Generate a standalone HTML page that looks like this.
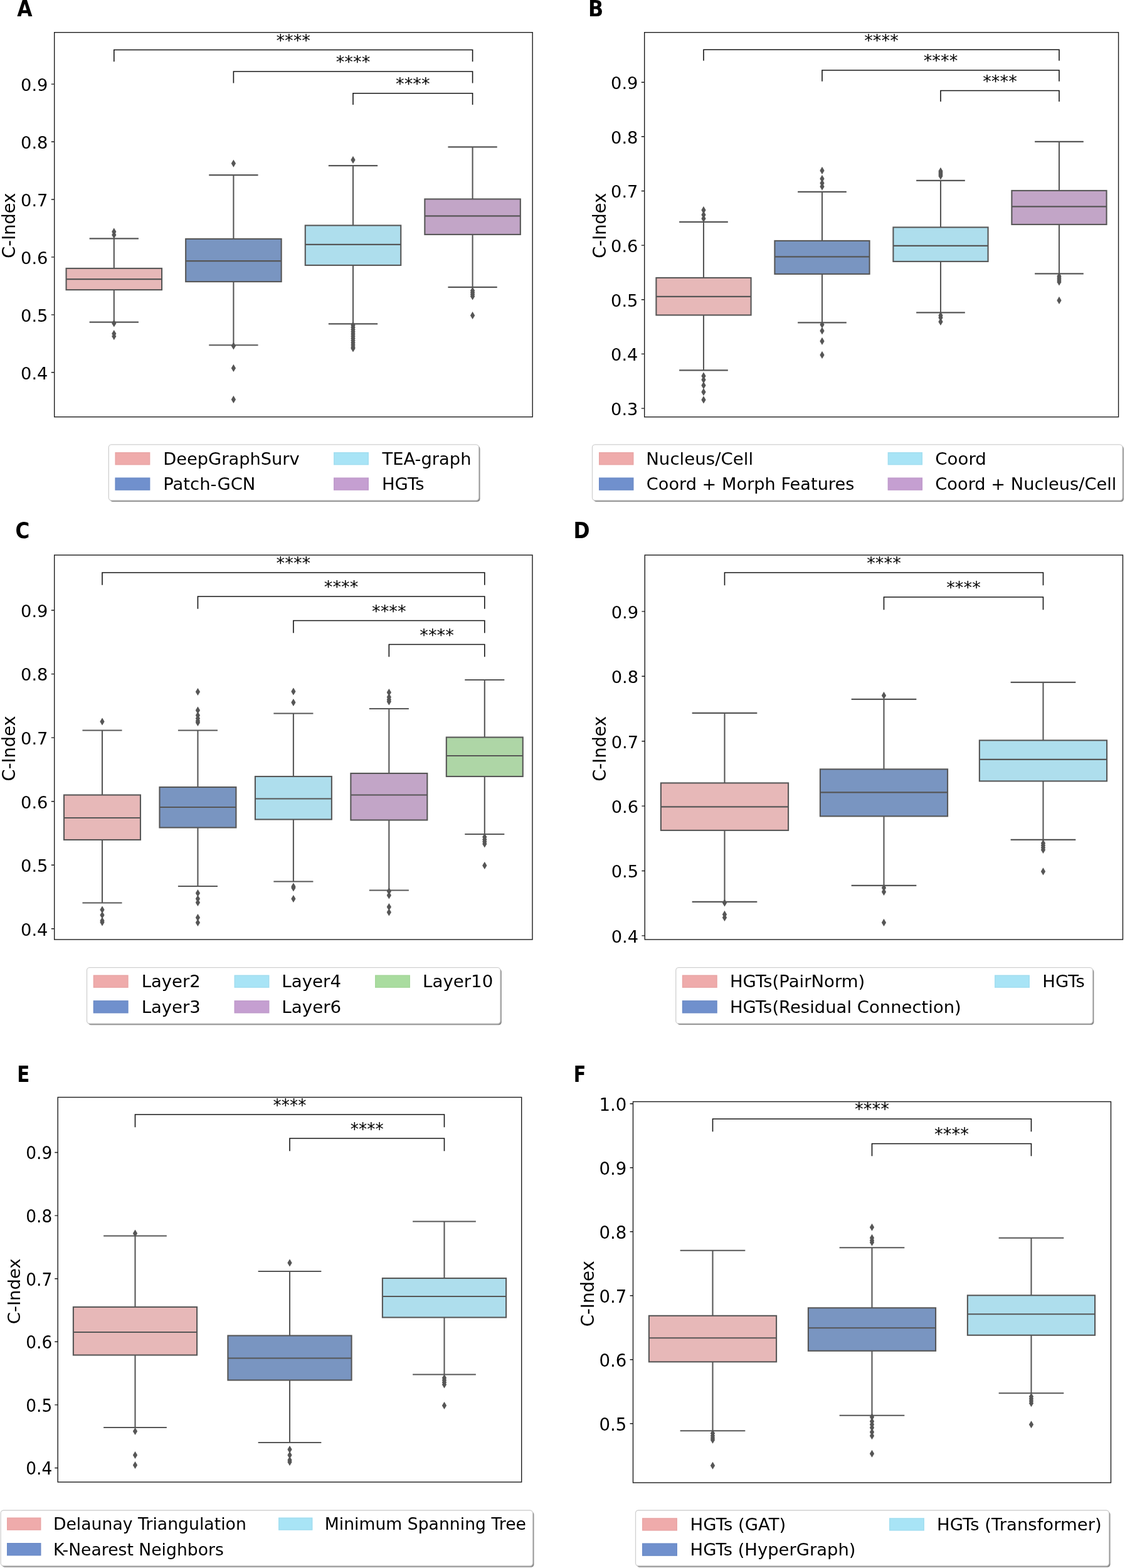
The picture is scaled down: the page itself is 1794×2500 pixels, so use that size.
<!DOCTYPE html>
<html lang="en"><head><meta charset="utf-8"><title>C-Index box plots</title>
<style>
html,body{margin:0;padding:0;background:#fff}
body{width:1794px;height:2500px;overflow:hidden}
svg{display:block}
svg text{font-family:"DejaVu Sans","Liberation Sans",sans-serif;fill:#000}
svg text.pl{font-family:"DejaVu Sans","Liberation Sans",sans-serif;font-weight:bold}
.bx{stroke:#565656;stroke-width:2.08;fill:none;stroke-linecap:square}
.bx .md{stroke-linecap:butt}
.fl{fill:#565656;stroke:#565656;stroke-width:1.2;stroke-linejoin:miter}
.br{fill:none;stroke:#161616;stroke-width:1.6;stroke-linecap:square}
.sp{fill:none;stroke:#1c1c1c;stroke-width:1.4}
.tk{fill:none;stroke:#1c1c1c;stroke-width:1.4}
.sh{fill:#8a8a8a}
.lp{fill:none;stroke:#000;stroke-opacity:.035;stroke-width:1}
.lb{fill:#fff;stroke:#d0d0d0;stroke-width:1.3}
</style></head><body>
<svg width="1794" height="2500" viewBox="0 0 1794 2500" role="img" aria-label="C-Index box plots, panels A to F">
<rect width="1794" height="2500" fill="#fff"/>
<g id="panel-A">
<g class="bx">
<path d="M181.8 380.4V427.9M181.8 462.1V513.6M143.68 380.4h76.24M143.68 513.6h76.24"/>
<rect x="105.56" y="427.9" width="152.48" height="34.2" fill="#e7b8b8"/>
<path class="md" d="M105.56 445.1h152.48"/>
</g>
<path class="fl" d="M181.8 364.5l2.95 4.9l-2.95 4.9l-2.95 -4.9zM181.8 369.7l2.95 4.9l-2.95 4.9l-2.95 -4.9zM181.8 510.5l2.95 4.9l-2.95 4.9l-2.95 -4.9zM181.8 527.2l2.95 4.9l-2.95 4.9l-2.95 -4.9zM181.8 531.2l2.95 4.9l-2.95 4.9l-2.95 -4.9z"/>
<g class="bx">
<path d="M372.4 279.1V380.9M372.4 449.1V550.2M334.28 279.1h76.24M334.28 550.2h76.24"/>
<rect x="296.16" y="380.9" width="152.48" height="68.2" fill="#7995c1"/>
<path class="md" d="M296.16 416.1h152.48"/>
</g>
<path class="fl" d="M372.4 255.7l2.95 4.9l-2.95 4.9l-2.95 -4.9zM372.4 546.5l2.95 4.9l-2.95 4.9l-2.95 -4.9zM372.4 582l2.95 4.9l-2.95 4.9l-2.95 -4.9zM372.4 632l2.95 4.9l-2.95 4.9l-2.95 -4.9z"/>
<g class="bx">
<path d="M563 264.1V359.4M563 422.9V516.4M524.88 264.1h76.24M524.88 516.4h76.24"/>
<rect x="486.76" y="359.4" width="152.48" height="63.5" fill="#aedeed"/>
<path class="md" d="M486.76 389.9h152.48"/>
</g>
<path class="fl" d="M563 250l2.95 4.9l-2.95 4.9l-2.95 -4.9zM563 513.5l2.95 4.9l-2.95 4.9l-2.95 -4.9zM563 517l2.95 4.9l-2.95 4.9l-2.95 -4.9zM563 520.5l2.95 4.9l-2.95 4.9l-2.95 -4.9zM563 524l2.95 4.9l-2.95 4.9l-2.95 -4.9zM563 527.5l2.95 4.9l-2.95 4.9l-2.95 -4.9zM563 531l2.95 4.9l-2.95 4.9l-2.95 -4.9zM563 534.5l2.95 4.9l-2.95 4.9l-2.95 -4.9zM563 538l2.95 4.9l-2.95 4.9l-2.95 -4.9zM563 541.5l2.95 4.9l-2.95 4.9l-2.95 -4.9zM563 545l2.95 4.9l-2.95 4.9l-2.95 -4.9zM563 548.5l2.95 4.9l-2.95 4.9l-2.95 -4.9zM563 550.5l2.95 4.9l-2.95 4.9l-2.95 -4.9z"/>
<g class="bx">
<path d="M753.6 234.4V317.4M753.6 373.9V457.9M715.48 234.4h76.24M715.48 457.9h76.24"/>
<rect x="677.36" y="317.4" width="152.48" height="56.5" fill="#c2a5c7"/>
<path class="md" d="M677.36 344.4h152.48"/>
</g>
<path class="fl" d="M753.6 458.5l2.95 4.9l-2.95 4.9l-2.95 -4.9zM753.6 461.5l2.95 4.9l-2.95 4.9l-2.95 -4.9zM753.6 464.5l2.95 4.9l-2.95 4.9l-2.95 -4.9zM753.6 467.5l2.95 4.9l-2.95 4.9l-2.95 -4.9zM753.6 498l2.95 4.9l-2.95 4.9l-2.95 -4.9z"/>
<path class="br" d="M181.8 97.5V79.5H753.6V97.5"/>
<text transform="translate(467.7 73.9) scale(1 1)" font-size="27.3" text-anchor="middle">****</text>
<path class="br" d="M372.4 131.7V114H753.6V131.7"/>
<text transform="translate(563 108.4) scale(1 1)" font-size="27.3" text-anchor="middle">****</text>
<path class="br" d="M563 166.3V148.7H753.6V166.3"/>
<text transform="translate(658.3 143.1) scale(1 1)" font-size="27.3" text-anchor="middle">****</text>
<rect class="sp" x="86.7" y="51.7" width="762.5" height="613"/>
<path class="tk" d="M86.7 134.1h-4.9M86.7 226h-4.9M86.7 318h-4.9M86.7 409.9h-4.9M86.7 501.9h-4.9M86.7 593.8h-4.9"/>
<g font-size="27.3" text-anchor="end">
<text transform="translate(76.5 144.95) scale(1 1)">0.9</text>
<text transform="translate(76.5 236.85) scale(1 1)">0.8</text>
<text transform="translate(76.5 328.85) scale(1 1)">0.7</text>
<text transform="translate(76.5 420.75) scale(1 1)">0.6</text>
<text transform="translate(76.5 512.75) scale(1 1)">0.5</text>
<text transform="translate(76.5 604.65) scale(1 1)">0.4</text>
</g>
<text transform="translate(23.9 359.7) rotate(-90) scale(1 1.02)" font-size="27.3" text-anchor="middle">C-Index</text>
<text class="pl" transform="translate(27.35 25.6) scale(0.9 1)" font-size="34.9">A</text>
<rect class="sh" x="175.3" y="711" width="590.2" height="89" rx="4.5"/>
<rect class="lb" x="173.3" y="708.8" width="590.2" height="89" rx="4.5"/>
<g font-size="26.7">
<rect x="183.4" y="721" width="56" height="20.45" fill="#efabab"/>
<rect class="lp" x="184.4" y="722" width="54" height="18.45"/>
<text transform="translate(260.22 740.9) scale(1.0220 1)">DeepGraphSurv</text>
<rect x="183.4" y="761.4" width="56" height="20.45" fill="#7090cd"/>
<rect class="lp" x="184.4" y="762.4" width="54" height="18.45"/>
<text transform="translate(260.21 781.4) scale(1.0278 1)">Patch-GCN</text>
<rect x="532" y="721" width="56" height="20.45" fill="#a8e4f6"/>
<rect class="lp" x="533" y="722" width="54" height="18.45"/>
<text transform="translate(609.48 740.9) scale(1.0245 1)">TEA-graph</text>
<rect x="532" y="761.4" width="56" height="20.45" fill="#c59fd1"/>
<rect class="lp" x="533" y="762.4" width="54" height="18.45"/>
<text transform="translate(608.9 781.4) scale(1.0309 1)">HGTs</text>
</g>
</g>
<g id="panel-B">
<g class="bx">
<path d="M1122 353.9V442.9M1122 502.4V590.4M1084.2 353.9h75.6M1084.2 590.4h75.6"/>
<rect x="1046.4" y="442.9" width="151.2" height="59.5" fill="#e7b8b8"/>
<path class="md" d="M1046.4 472.9h151.2"/>
</g>
<path class="fl" d="M1122 330l2.95 4.9l-2.95 4.9l-2.95 -4.9zM1122 337.5l2.95 4.9l-2.95 4.9l-2.95 -4.9zM1122 343.5l2.95 4.9l-2.95 4.9l-2.95 -4.9zM1122 594.5l2.95 4.9l-2.95 4.9l-2.95 -4.9zM1122 600.5l2.95 4.9l-2.95 4.9l-2.95 -4.9zM1122 609.5l2.95 4.9l-2.95 4.9l-2.95 -4.9zM1122 620l2.95 4.9l-2.95 4.9l-2.95 -4.9zM1122 632.5l2.95 4.9l-2.95 4.9l-2.95 -4.9z"/>
<g class="bx">
<path d="M1311 305.9V383.9M1311 436.9V514.4M1273.2 305.9h75.6M1273.2 514.4h75.6"/>
<rect x="1235.4" y="383.9" width="151.2" height="53" fill="#7995c1"/>
<path class="md" d="M1235.4 409.4h151.2"/>
</g>
<path class="fl" d="M1311 267l2.95 4.9l-2.95 4.9l-2.95 -4.9zM1311 280l2.95 4.9l-2.95 4.9l-2.95 -4.9zM1311 287l2.95 4.9l-2.95 4.9l-2.95 -4.9zM1311 292.5l2.95 4.9l-2.95 4.9l-2.95 -4.9zM1311 512.5l2.95 4.9l-2.95 4.9l-2.95 -4.9zM1311 522.5l2.95 4.9l-2.95 4.9l-2.95 -4.9zM1311 539l2.95 4.9l-2.95 4.9l-2.95 -4.9zM1311 561l2.95 4.9l-2.95 4.9l-2.95 -4.9z"/>
<g class="bx">
<path d="M1500 287.9V362.4M1500 416.9V498.4M1462.2 287.9h75.6M1462.2 498.4h75.6"/>
<rect x="1424.4" y="362.4" width="151.2" height="54.5" fill="#aedeed"/>
<path class="md" d="M1424.4 391.9h151.2"/>
</g>
<path class="fl" d="M1500 268l2.95 4.9l-2.95 4.9l-2.95 -4.9zM1500 270.5l2.95 4.9l-2.95 4.9l-2.95 -4.9zM1500 273l2.95 4.9l-2.95 4.9l-2.95 -4.9zM1500 275.5l2.95 4.9l-2.95 4.9l-2.95 -4.9zM1500 498l2.95 4.9l-2.95 4.9l-2.95 -4.9zM1500 501.5l2.95 4.9l-2.95 4.9l-2.95 -4.9zM1500 508l2.95 4.9l-2.95 4.9l-2.95 -4.9z"/>
<g class="bx">
<path d="M1689 225.9V303.9M1689 357.9V436.4M1651.2 225.9h75.6M1651.2 436.4h75.6"/>
<rect x="1613.4" y="303.9" width="151.2" height="54" fill="#c2a5c7"/>
<path class="md" d="M1613.4 329.4h151.2"/>
</g>
<path class="fl" d="M1689 435.5l2.95 4.9l-2.95 4.9l-2.95 -4.9zM1689 438.5l2.95 4.9l-2.95 4.9l-2.95 -4.9zM1689 441.5l2.95 4.9l-2.95 4.9l-2.95 -4.9zM1689 444.5l2.95 4.9l-2.95 4.9l-2.95 -4.9zM1689 474l2.95 4.9l-2.95 4.9l-2.95 -4.9z"/>
<path class="br" d="M1122 96V79.2H1689V96"/>
<text transform="translate(1405.5 73.6) scale(1 1)" font-size="27.3" text-anchor="middle">****</text>
<path class="br" d="M1311 129V112H1689V129"/>
<text transform="translate(1500 106.4) scale(1 1)" font-size="27.3" text-anchor="middle">****</text>
<path class="br" d="M1500 161.3V144.5H1689V161.3"/>
<text transform="translate(1594.5 138.9) scale(1 1)" font-size="27.3" text-anchor="middle">****</text>
<rect class="sp" x="1027.7" y="51.7" width="755.9" height="613.1"/>
<path class="tk" d="M1027.7 131.2h-4.9M1027.7 217.8h-4.9M1027.7 304.5h-4.9M1027.7 391.1h-4.9M1027.7 477.8h-4.9M1027.7 564.4h-4.9M1027.7 651.1h-4.9"/>
<g font-size="27.3" text-anchor="end">
<text transform="translate(1017.5 142.05) scale(1 1)">0.9</text>
<text transform="translate(1017.5 228.65) scale(1 1)">0.8</text>
<text transform="translate(1017.5 315.35) scale(1 1)">0.7</text>
<text transform="translate(1017.5 401.95) scale(1 1)">0.6</text>
<text transform="translate(1017.5 488.65) scale(1 1)">0.5</text>
<text transform="translate(1017.5 575.25) scale(1 1)">0.4</text>
<text transform="translate(1017.5 661.95) scale(1 1)">0.3</text>
</g>
<text transform="translate(966.1 359.7) rotate(-90) scale(1 1.02)" font-size="27.3" text-anchor="middle">C-Index</text>
<text class="pl" transform="translate(938.1 25.7) scale(0.91 1)" font-size="34.9">B</text>
<rect class="sh" x="946.5" y="711" width="845.5" height="89" rx="4.5"/>
<rect class="lb" x="944.5" y="708.8" width="845.5" height="89" rx="4.5"/>
<g font-size="26.7">
<rect x="955" y="721" width="55.5" height="20.45" fill="#efabab"/>
<rect class="lp" x="956" y="722" width="53.5" height="18.45"/>
<text transform="translate(1030.19 740.9) scale(1.0360 1)">Nucleus/Cell</text>
<rect x="955" y="761.4" width="55.5" height="20.45" fill="#7090cd"/>
<rect class="lp" x="956" y="762.4" width="53.5" height="18.45"/>
<text transform="translate(1030.77 781.4) scale(1.0188 1)">Coord + Morph Features</text>
<rect x="1415.6" y="721" width="55.5" height="20.45" fill="#a8e4f6"/>
<rect class="lp" x="1416.6" y="722" width="53.5" height="18.45"/>
<text transform="translate(1491.25 740.9) scale(1.0368 1)">Coord</text>
<rect x="1415.6" y="761.4" width="55.5" height="20.45" fill="#c59fd1"/>
<rect class="lp" x="1416.6" y="762.4" width="53.5" height="18.45"/>
<text transform="translate(1491.27 781.4) scale(1.0212 1)">Coord + Nucleus/Cell</text>
</g>
</g>
<g id="panel-C">
<g class="bx">
<path d="M163 1164.5V1267.5M163 1339V1439.5M132.51 1164.5h60.98M132.51 1439.5h60.98"/>
<rect x="102.02" y="1267.5" width="121.96" height="71.5" fill="#e7b8b8"/>
<path class="md" d="M102.02 1304h121.96"/>
</g>
<path class="fl" d="M163 1145.6l2.95 4.9l-2.95 4.9l-2.95 -4.9zM163 1445.6l2.95 4.9l-2.95 4.9l-2.95 -4.9zM163 1454.1l2.95 4.9l-2.95 4.9l-2.95 -4.9zM163 1463.1l2.95 4.9l-2.95 4.9l-2.95 -4.9zM163 1465.6l2.95 4.9l-2.95 4.9l-2.95 -4.9z"/>
<g class="bx">
<path d="M315.45 1164.5V1255M315.45 1319.5V1413M284.96 1164.5h60.98M284.96 1413h60.98"/>
<rect x="254.47" y="1255" width="121.96" height="64.5" fill="#7995c1"/>
<path class="md" d="M254.47 1287h121.96"/>
</g>
<path class="fl" d="M315.45 1098.1l2.95 4.9l-2.95 4.9l-2.95 -4.9zM315.45 1127.6l2.95 4.9l-2.95 4.9l-2.95 -4.9zM315.45 1135.6l2.95 4.9l-2.95 4.9l-2.95 -4.9zM315.45 1140.6l2.95 4.9l-2.95 4.9l-2.95 -4.9zM315.45 1144.6l2.95 4.9l-2.95 4.9l-2.95 -4.9zM315.45 1147.1l2.95 4.9l-2.95 4.9l-2.95 -4.9zM315.45 1419.1l2.95 4.9l-2.95 4.9l-2.95 -4.9zM315.45 1428.1l2.95 4.9l-2.95 4.9l-2.95 -4.9zM315.45 1434.1l2.95 4.9l-2.95 4.9l-2.95 -4.9zM315.45 1458.1l2.95 4.9l-2.95 4.9l-2.95 -4.9zM315.45 1466.1l2.95 4.9l-2.95 4.9l-2.95 -4.9z"/>
<g class="bx">
<path d="M467.9 1137.5V1238M467.9 1306.5V1405.5M437.41 1137.5h60.98M437.41 1405.5h60.98"/>
<rect x="406.92" y="1238" width="121.96" height="68.5" fill="#aedeed"/>
<path class="md" d="M406.92 1273.5h121.96"/>
</g>
<path class="fl" d="M467.9 1097.6l2.95 4.9l-2.95 4.9l-2.95 -4.9zM467.9 1115.1l2.95 4.9l-2.95 4.9l-2.95 -4.9zM467.9 1408.6l2.95 4.9l-2.95 4.9l-2.95 -4.9zM467.9 1410.6l2.95 4.9l-2.95 4.9l-2.95 -4.9zM467.9 1428.1l2.95 4.9l-2.95 4.9l-2.95 -4.9z"/>
<g class="bx">
<path d="M620.35 1130V1233M620.35 1307.5V1419.5M589.86 1130h60.98M589.86 1419.5h60.98"/>
<rect x="559.37" y="1233" width="121.96" height="74.5" fill="#c2a5c7"/>
<path class="md" d="M559.37 1267.5h121.96"/>
</g>
<path class="fl" d="M620.35 1099.1l2.95 4.9l-2.95 4.9l-2.95 -4.9zM620.35 1106.6l2.95 4.9l-2.95 4.9l-2.95 -4.9zM620.35 1110.6l2.95 4.9l-2.95 4.9l-2.95 -4.9zM620.35 1113.6l2.95 4.9l-2.95 4.9l-2.95 -4.9zM620.35 1416.1l2.95 4.9l-2.95 4.9l-2.95 -4.9zM620.35 1422.6l2.95 4.9l-2.95 4.9l-2.95 -4.9zM620.35 1441.1l2.95 4.9l-2.95 4.9l-2.95 -4.9zM620.35 1449.6l2.95 4.9l-2.95 4.9l-2.95 -4.9z"/>
<g class="bx">
<path d="M772.8 1084V1175.5M772.8 1238V1330M742.31 1084h60.98M742.31 1330h60.98"/>
<rect x="711.82" y="1175.5" width="121.96" height="62.5" fill="#aed6a6"/>
<path class="md" d="M711.82 1205h121.96"/>
</g>
<path class="fl" d="M772.8 1329.6l2.95 4.9l-2.95 4.9l-2.95 -4.9zM772.8 1333.6l2.95 4.9l-2.95 4.9l-2.95 -4.9zM772.8 1337.1l2.95 4.9l-2.95 4.9l-2.95 -4.9zM772.8 1340.6l2.95 4.9l-2.95 4.9l-2.95 -4.9zM772.8 1375.1l2.95 4.9l-2.95 4.9l-2.95 -4.9z"/>
<path class="br" d="M163 932V913H772.8V932"/>
<text transform="translate(467.9 907.4) scale(1 1)" font-size="27.3" text-anchor="middle">****</text>
<path class="br" d="M315.45 970V951H772.8V970"/>
<text transform="translate(544.12 945.4) scale(1 1)" font-size="27.3" text-anchor="middle">****</text>
<path class="br" d="M467.9 1008.5V989.5H772.8V1008.5"/>
<text transform="translate(620.35 983.9) scale(1 1)" font-size="27.3" text-anchor="middle">****</text>
<path class="br" d="M620.35 1046.5V1027.5H772.8V1046.5"/>
<text transform="translate(696.57 1021.9) scale(1 1)" font-size="27.3" text-anchor="middle">****</text>
<rect class="sp" x="86.7" y="885" width="762.3" height="613"/>
<path class="tk" d="M86.7 973h-4.9M86.7 1074.6h-4.9M86.7 1176.1h-4.9M86.7 1277.7h-4.9M86.7 1379.2h-4.9M86.7 1480.7h-4.9"/>
<g font-size="27.3" text-anchor="end">
<text transform="translate(76.5 983.85) scale(1 1)">0.9</text>
<text transform="translate(76.5 1085.45) scale(1 1)">0.8</text>
<text transform="translate(76.5 1186.95) scale(1 1)">0.7</text>
<text transform="translate(76.5 1288.55) scale(1 1)">0.6</text>
<text transform="translate(76.5 1390.05) scale(1 1)">0.5</text>
<text transform="translate(76.5 1491.55) scale(1 1)">0.4</text>
</g>
<text transform="translate(23.9 1193.4) rotate(-90) scale(1 1.02)" font-size="27.3" text-anchor="middle">C-Index</text>
<text class="pl" transform="translate(24.5 857.5) scale(0.89 1)" font-size="34.9">C</text>
<rect class="sh" x="140.5" y="1544.8" width="659.3" height="89.4" rx="4.5"/>
<rect class="lb" x="138.5" y="1542.6" width="659.3" height="89.4" rx="4.5"/>
<g font-size="26.7">
<rect x="148.7" y="1554.5" width="56" height="20.45" fill="#efabab"/>
<rect class="lp" x="149.7" y="1555.5" width="54" height="18.45"/>
<text transform="translate(225.7 1574.3) scale(1.0286 1)">Layer2</text>
<rect x="148.7" y="1595.1" width="56" height="20.45" fill="#7090cd"/>
<rect class="lp" x="149.7" y="1596.1" width="54" height="18.45"/>
<text transform="translate(225.7 1614.8) scale(1.0292 1)">Layer3</text>
<rect x="373.5" y="1554.5" width="56" height="20.45" fill="#a8e4f6"/>
<rect class="lp" x="374.5" y="1555.5" width="54" height="18.45"/>
<text transform="translate(449.28 1574.3) scale(1.0365 1)">Layer4</text>
<rect x="373.5" y="1595.1" width="56" height="20.45" fill="#c59fd1"/>
<rect class="lp" x="374.5" y="1596.1" width="54" height="18.45"/>
<text transform="translate(449.28 1614.8) scale(1.0387 1)">Layer6</text>
<rect x="598" y="1554.5" width="56" height="20.45" fill="#a9dc9f"/>
<rect class="lp" x="599" y="1555.5" width="54" height="18.45"/>
<text transform="translate(674.04 1574.3) scale(1.0358 1)">Layer10</text>
</g>
</g>
<g id="panel-D">
<g class="bx">
<path d="M1155.5 1136.9V1248.4M1155.5 1323.9V1437.9M1104.7 1136.9h101.6M1104.7 1437.9h101.6"/>
<rect x="1053.9" y="1248.4" width="203.2" height="75.5" fill="#e7b8b8"/>
<path class="md" d="M1053.9 1286.4h203.2"/>
</g>
<path class="fl" d="M1155.5 1434.5l2.95 4.9l-2.95 4.9l-2.95 -4.9zM1155.5 1453l2.95 4.9l-2.95 4.9l-2.95 -4.9zM1155.5 1458l2.95 4.9l-2.95 4.9l-2.95 -4.9z"/>
<g class="bx">
<path d="M1409.5 1114.9V1226.4M1409.5 1301.4V1411.9M1358.7 1114.9h101.6M1358.7 1411.9h101.6"/>
<rect x="1307.9" y="1226.4" width="203.2" height="75" fill="#7995c1"/>
<path class="md" d="M1307.9 1263.4h203.2"/>
</g>
<path class="fl" d="M1409.5 1104l2.95 4.9l-2.95 4.9l-2.95 -4.9zM1409.5 1410.5l2.95 4.9l-2.95 4.9l-2.95 -4.9zM1409.5 1417l2.95 4.9l-2.95 4.9l-2.95 -4.9zM1409.5 1466l2.95 4.9l-2.95 4.9l-2.95 -4.9z"/>
<g class="bx">
<path d="M1663.5 1087.9V1180.4M1663.5 1245.4V1338.9M1612.7 1087.9h101.6M1612.7 1338.9h101.6"/>
<rect x="1561.9" y="1180.4" width="203.2" height="65" fill="#aedeed"/>
<path class="md" d="M1561.9 1210.9h203.2"/>
</g>
<path class="fl" d="M1663.5 1339.5l2.95 4.9l-2.95 4.9l-2.95 -4.9zM1663.5 1343l2.95 4.9l-2.95 4.9l-2.95 -4.9zM1663.5 1346.5l2.95 4.9l-2.95 4.9l-2.95 -4.9zM1663.5 1350l2.95 4.9l-2.95 4.9l-2.95 -4.9zM1663.5 1384.5l2.95 4.9l-2.95 4.9l-2.95 -4.9z"/>
<path class="br" d="M1155.5 932.5V913H1663.5V932.5"/>
<text transform="translate(1409.5 907.4) scale(1 1)" font-size="27.3" text-anchor="middle">****</text>
<path class="br" d="M1409.5 971.5V952H1663.5V971.5"/>
<text transform="translate(1536.5 946.4) scale(1 1)" font-size="27.3" text-anchor="middle">****</text>
<rect class="sp" x="1028.3" y="885" width="762.2" height="613"/>
<path class="tk" d="M1028.3 974.9h-4.9M1028.3 1078.3h-4.9M1028.3 1181.7h-4.9M1028.3 1285.1h-4.9M1028.3 1388.5h-4.9M1028.3 1491.9h-4.9"/>
<g font-size="27.3" text-anchor="end">
<text transform="translate(1018.1 985.75) scale(1 1)">0.9</text>
<text transform="translate(1018.1 1089.15) scale(1 1)">0.8</text>
<text transform="translate(1018.1 1192.55) scale(1 1)">0.7</text>
<text transform="translate(1018.1 1295.95) scale(1 1)">0.6</text>
<text transform="translate(1018.1 1399.35) scale(1 1)">0.5</text>
<text transform="translate(1018.1 1502.75) scale(1 1)">0.4</text>
</g>
<text transform="translate(966.1 1193.8) rotate(-90) scale(1 1.02)" font-size="27.3" text-anchor="middle">C-Index</text>
<text class="pl" transform="translate(914.45 857.6) scale(0.9 1)" font-size="34.9">D</text>
<rect class="sh" x="1079.8" y="1544.9" width="664.6" height="89.2" rx="4.5"/>
<rect class="lb" x="1077.8" y="1542.7" width="664.6" height="89.2" rx="4.5"/>
<g font-size="26.7">
<rect x="1087.8" y="1554.5" width="56" height="20.45" fill="#efabab"/>
<rect class="lp" x="1088.8" y="1555.5" width="54" height="18.45"/>
<text transform="translate(1163.9 1574.3) scale(1.0313 1)">HGTs(PairNorm)</text>
<rect x="1087.8" y="1595.1" width="56" height="20.45" fill="#7090cd"/>
<rect class="lp" x="1088.8" y="1596.1" width="54" height="18.45"/>
<text transform="translate(1163.91 1614.8) scale(1.0284 1)">HGTs(Residual Connection)</text>
<rect x="1586" y="1554.5" width="56" height="20.45" fill="#a8e4f6"/>
<rect class="lp" x="1587" y="1555.5" width="54" height="18.45"/>
<text transform="translate(1662.3 1574.3) scale(1.0309 1)">HGTs</text>
</g>
</g>
<g id="panel-E">
<g class="bx">
<path d="M215.5 1970.5V2083.9M215.5 2160.5V2276M166.2 1970.5h98.6M166.2 2276h98.6"/>
<rect x="116.9" y="2083.9" width="197.2" height="76.6" fill="#e7b8b8"/>
<path class="md" d="M116.9 2124h197.2"/>
</g>
<path class="fl" d="M215.5 1961.6l2.95 4.9l-2.95 4.9l-2.95 -4.9zM215.5 2277.1l2.95 4.9l-2.95 4.9l-2.95 -4.9zM215.5 2315.1l2.95 4.9l-2.95 4.9l-2.95 -4.9zM215.5 2331.1l2.95 4.9l-2.95 4.9l-2.95 -4.9z"/>
<g class="bx">
<path d="M462 2027V2129.5M462 2200.5V2300M412.7 2027h98.6M412.7 2300h98.6"/>
<rect x="363.4" y="2129.5" width="197.2" height="71" fill="#7995c1"/>
<path class="md" d="M363.4 2165.5h197.2"/>
</g>
<path class="fl" d="M462 2008.6l2.95 4.9l-2.95 4.9l-2.95 -4.9zM462 2306.1l2.95 4.9l-2.95 4.9l-2.95 -4.9zM462 2315.1l2.95 4.9l-2.95 4.9l-2.95 -4.9zM462 2323.1l2.95 4.9l-2.95 4.9l-2.95 -4.9zM462 2326.1l2.95 4.9l-2.95 4.9l-2.95 -4.9z"/>
<g class="bx">
<path d="M708.5 1947.5V2038M708.5 2100.5V2191.5M659.2 1947.5h98.6M659.2 2191.5h98.6"/>
<rect x="609.9" y="2038" width="197.2" height="62.5" fill="#aedeed"/>
<path class="md" d="M609.9 2067h197.2"/>
</g>
<path class="fl" d="M708.5 2192.1l2.95 4.9l-2.95 4.9l-2.95 -4.9zM708.5 2195.6l2.95 4.9l-2.95 4.9l-2.95 -4.9zM708.5 2199.1l2.95 4.9l-2.95 4.9l-2.95 -4.9zM708.5 2202.6l2.95 4.9l-2.95 4.9l-2.95 -4.9zM708.5 2236.1l2.95 4.9l-2.95 4.9l-2.95 -4.9z"/>
<path class="br" d="M215.5 1796.5V1777H708.5V1796.5"/>
<text transform="translate(462 1772.2) scale(0.96 1)" font-size="27.5" text-anchor="middle">****</text>
<path class="br" d="M462 1834.5V1815H708.5V1834.5"/>
<text transform="translate(585.25 1810.2) scale(0.96 1)" font-size="27.5" text-anchor="middle">****</text>
<rect class="sp" x="92.2" y="1749.5" width="739.5" height="613.5"/>
<path class="tk" d="M92.2 1837.5h-4.9M92.2 1938.1h-4.9M92.2 2038.7h-4.9M92.2 2139.3h-4.9M92.2 2239.9h-4.9M92.2 2340.5h-4.9"/>
<g font-size="27.5" text-anchor="end">
<text transform="translate(83.2 1848.42) scale(0.96 1)">0.9</text>
<text transform="translate(83.2 1949.02) scale(0.96 1)">0.8</text>
<text transform="translate(83.2 2049.62) scale(0.96 1)">0.7</text>
<text transform="translate(83.2 2150.22) scale(0.96 1)">0.6</text>
<text transform="translate(83.2 2250.82) scale(0.96 1)">0.5</text>
<text transform="translate(83.2 2351.42) scale(0.96 1)">0.4</text>
</g>
<text transform="translate(32.2 2058.8) rotate(-90) scale(1 0.98)" font-size="27.5" text-anchor="middle">C-Index</text>
<text class="pl" transform="translate(27.3 1724.6) scale(0.84 1)" font-size="34.9">E</text>
<rect class="sh" x="3.2" y="2410.2" width="848.3" height="88.5" rx="4.5"/>
<rect class="lb" x="1.2" y="2408" width="848.3" height="88.5" rx="4.5"/>
<g font-size="26.7">
<rect x="11" y="2419.5" width="54.5" height="20.4" fill="#efabab"/>
<rect class="lp" x="12" y="2420.5" width="52.5" height="18.4"/>
<text transform="translate(84.88 2439.2) scale(0.9999 1)">Delaunay Triangulation</text>
<rect x="11" y="2460" width="54.5" height="20.4" fill="#7090cd"/>
<rect class="lp" x="12" y="2461" width="52.5" height="18.4"/>
<text transform="translate(84.88 2479.7) scale(0.9980 1)">K-Nearest Neighbors</text>
<rect x="444" y="2419.5" width="54.5" height="20.4" fill="#a8e4f6"/>
<rect class="lp" x="445" y="2420.5" width="52.5" height="18.4"/>
<text transform="translate(517.78 2439.2) scale(0.9988 1)">Minimum Spanning Tree</text>
</g>
</g>
<g id="panel-F">
<g class="bx">
<path d="M1136.5 1993.8V2097.8M1136.5 2171.3V2281.3M1085.7 1993.8h101.6M1085.7 2281.3h101.6"/>
<rect x="1034.9" y="2097.8" width="203.2" height="73.5" fill="#e7b8b8"/>
<path class="md" d="M1034.9 2133.3h203.2"/>
</g>
<path class="fl" d="M1136.5 2280.4l2.95 4.9l-2.95 4.9l-2.95 -4.9zM1136.5 2284.4l2.95 4.9l-2.95 4.9l-2.95 -4.9zM1136.5 2287.9l2.95 4.9l-2.95 4.9l-2.95 -4.9zM1136.5 2290.9l2.95 4.9l-2.95 4.9l-2.95 -4.9zM1136.5 2331.9l2.95 4.9l-2.95 4.9l-2.95 -4.9z"/>
<g class="bx">
<path d="M1390.5 1989.3V2085.3M1390.5 2153.8V2256.8M1339.7 1989.3h101.6M1339.7 2256.8h101.6"/>
<rect x="1288.9" y="2085.3" width="203.2" height="68.5" fill="#7995c1"/>
<path class="md" d="M1288.9 2117.3h203.2"/>
</g>
<path class="fl" d="M1390.5 1951.9l2.95 4.9l-2.95 4.9l-2.95 -4.9zM1390.5 1968.9l2.95 4.9l-2.95 4.9l-2.95 -4.9zM1390.5 1972.9l2.95 4.9l-2.95 4.9l-2.95 -4.9zM1390.5 1975.9l2.95 4.9l-2.95 4.9l-2.95 -4.9zM1390.5 2254.4l2.95 4.9l-2.95 4.9l-2.95 -4.9zM1390.5 2261.4l2.95 4.9l-2.95 4.9l-2.95 -4.9zM1390.5 2266.4l2.95 4.9l-2.95 4.9l-2.95 -4.9zM1390.5 2271.4l2.95 4.9l-2.95 4.9l-2.95 -4.9zM1390.5 2278.4l2.95 4.9l-2.95 4.9l-2.95 -4.9zM1390.5 2284.4l2.95 4.9l-2.95 4.9l-2.95 -4.9zM1390.5 2312.9l2.95 4.9l-2.95 4.9l-2.95 -4.9z"/>
<g class="bx">
<path d="M1644.5 1973.8V2065.3M1644.5 2128.8V2221.3M1593.7 1973.8h101.6M1593.7 2221.3h101.6"/>
<rect x="1542.9" y="2065.3" width="203.2" height="63.5" fill="#aedeed"/>
<path class="md" d="M1542.9 2095.3h203.2"/>
</g>
<path class="fl" d="M1644.5 2221.9l2.95 4.9l-2.95 4.9l-2.95 -4.9zM1644.5 2225.4l2.95 4.9l-2.95 4.9l-2.95 -4.9zM1644.5 2228.9l2.95 4.9l-2.95 4.9l-2.95 -4.9zM1644.5 2232.4l2.95 4.9l-2.95 4.9l-2.95 -4.9zM1644.5 2266.4l2.95 4.9l-2.95 4.9l-2.95 -4.9z"/>
<path class="br" d="M1136.5 1803.5V1784H1644.5V1803.5"/>
<text transform="translate(1390.5 1778.4) scale(1 1)" font-size="27.6" text-anchor="middle">****</text>
<path class="br" d="M1390.5 1842.5V1823.5H1644.5V1842.5"/>
<text transform="translate(1517.5 1817.9) scale(1 1)" font-size="27.6" text-anchor="middle">****</text>
<rect class="sp" x="1009.5" y="1756.5" width="762" height="607.5"/>
<path class="tk" d="M1009.5 1759.8h-4.9M1009.5 1861.8h-4.9M1009.5 1963.8h-4.9M1009.5 2065.8h-4.9M1009.5 2167.8h-4.9M1009.5 2269.8h-4.9"/>
<g font-size="27.6" text-anchor="end">
<text transform="translate(999.3 1770.76) scale(1 1)">1.0</text>
<text transform="translate(999.3 1872.76) scale(1 1)">0.9</text>
<text transform="translate(999.3 1974.76) scale(1 1)">0.8</text>
<text transform="translate(999.3 2076.76) scale(1 1)">0.7</text>
<text transform="translate(999.3 2178.76) scale(1 1)">0.6</text>
<text transform="translate(999.3 2280.76) scale(1 1)">0.5</text>
</g>
<text transform="translate(947.2 2062.8) rotate(-90) scale(1 1.02)" font-size="27.6" text-anchor="middle">C-Index</text>
<text class="pl" transform="translate(914.7 1724.8) scale(0.82 1)" font-size="34.9">F</text>
<rect class="sh" x="1015.5" y="2410.2" width="755" height="88.5" rx="4.5"/>
<rect class="lb" x="1013.5" y="2408" width="755" height="88.5" rx="4.5"/>
<g font-size="26.7">
<rect x="1024" y="2420.2" width="56" height="20.45" fill="#efabab"/>
<rect class="lp" x="1025" y="2421.2" width="54" height="18.45"/>
<text transform="translate(1100.6 2440) scale(1.0313 1)">HGTs (GAT)</text>
<rect x="1024" y="2460.4" width="56" height="20.45" fill="#7090cd"/>
<rect class="lp" x="1025" y="2461.4" width="54" height="18.45"/>
<text transform="translate(1100.61 2480) scale(1.0268 1)">HGTs (HyperGraph)</text>
<rect x="1418" y="2420.2" width="56" height="20.45" fill="#a8e4f6"/>
<rect class="lp" x="1419" y="2421.2" width="54" height="18.45"/>
<text transform="translate(1494 2440) scale(1.0298 1)">HGTs (Transformer)</text>
</g>
</g>
</svg>
</body></html>
